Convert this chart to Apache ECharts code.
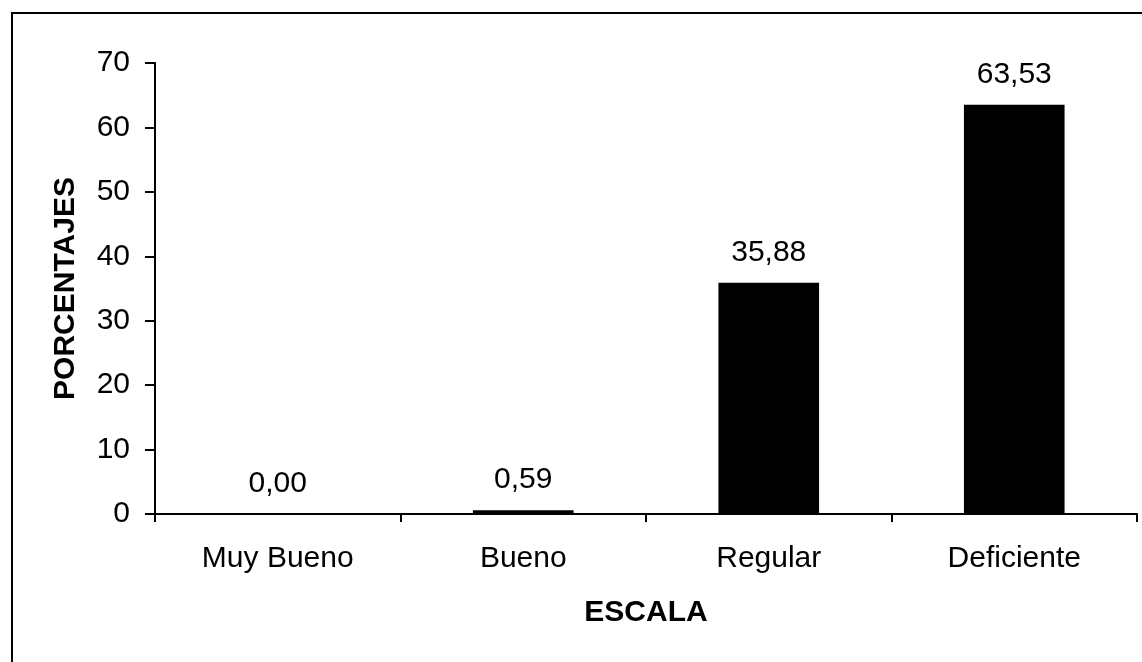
<!DOCTYPE html>
<html>
<head>
<meta charset="utf-8">
<script src="https://cdn.jsdelivr.net/npm/echarts@6/dist/echarts.min.js"></script>
<style>html,body{margin:0;padding:0;background:#fff;}#c{width:1142px;height:662px;}</style>
</head>
<body>
<div id="c"></div>
<script>
const categories = ['Muy Bueno', 'Bueno', 'Regular', 'Deficiente'];
const values = [0.00, 0.59, 35.88, 63.53];
const yTicks = { min: 0, max: 70, interval: 10 };

const FONT = '"Liberation Sans", Arial, sans-serif';
const chart = echarts.init(document.getElementById('c'), null, { renderer: 'canvas' });
chart.setOption({
  animation: false,
  backgroundColor: '#ffffff',
  graphic: [{
    type: 'rect',
    shape: { x: 12, y: 13, width: 1140, height: 660 },
    style: { fill: 'none', stroke: '#000', lineWidth: 2 },
    silent: true
  }],
  grid: { left: 155, right: 5, top: 63, bottom: 148 },
  xAxis: {
    type: 'category',
    data: categories,
    name: 'ESCALA',
    nameLocation: 'middle',
    nameGap: 84,
    nameTextStyle: { fontFamily: FONT, fontSize: 30, fontWeight: 'bold', color: '#000' },
    axisLine: { lineStyle: { color: '#000', width: 2 } },
    axisTick: { show: true, length: 8, lineStyle: { color: '#000', width: 2 } },
    axisLabel: { fontFamily: FONT, fontSize: 30, color: '#000', margin: 30 }
  },
  yAxis: {
    type: 'value',
    min: yTicks.min, max: yTicks.max, interval: yTicks.interval,
    name: 'PORCENTAJES',
    nameLocation: 'middle',
    nameGap: 74,
    nameTextStyle: { fontFamily: FONT, fontSize: 30, fontWeight: 'bold', color: '#000' },
    axisLine: { show: true, lineStyle: { color: '#000', width: 2 } },
    axisTick: { show: true, length: 10, lineStyle: { color: '#000', width: 2 } },
    axisLabel: { fontFamily: FONT, fontSize: 30, color: '#000', margin: 25 },
    splitLine: { show: false }
  },
  series: [{
    type: 'bar',
    data: values,
    barWidth: '41%',
    itemStyle: { color: '#000' },
    label: {
      show: true,
      position: 'top',
      distance: 15,
      fontFamily: FONT,
      fontSize: 30,
      color: '#000',
      formatter: p => p.value.toFixed(2).replace('.', ',')
    }
  }]
});
</script>
</body>
</html>
